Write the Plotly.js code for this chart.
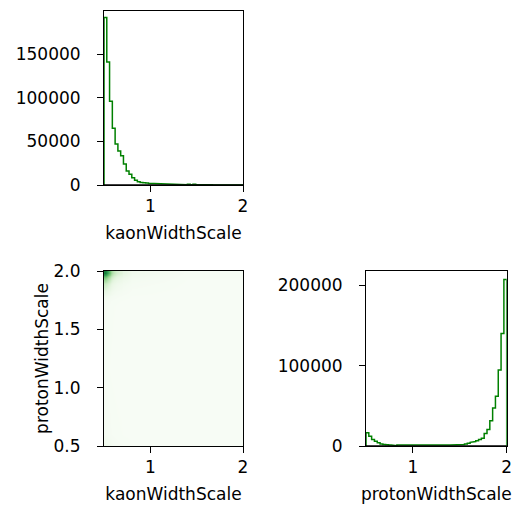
<!DOCTYPE html>
<html>
<head>
<meta charset="utf-8">
<script src="https://cdn.plot.ly/plotly-3.0.1.min.js"></script>
<style>html,body{margin:0;padding:0;background:#fff;}#plot{width:525px;height:512px;}</style>
</head>
<body>
<div id="plot"></div>
<script>
// ---- data ----
const binStart = 0.5;
const binWidth = 0.03;
const kaonCounts = [192000,141000,96000,65000,47000,39000,33500,24000,16000,12300,
  8400,5400,3800,3000,2600,2200,1800,1600,1500,1400,
  1300,1200,1150,1100,1050,1000,1000,1000,1000,300,
  1000,300,1000,200,200,200,200,1000,300,0,
  0,0,0,0,0,0,0,0,0,0];
const protonCounts = [16600,12000,8000,6000,4000,2500,1800,1500,1300,1200,
  300,1100,1100,1000,1000,300,1000,1000,1000,1000,
  1000,300,1000,1000,1000,300,1000,1000,1100,1200,
  1300,1400,1500,1600,1800,2500,3500,4600,5500,6600,
  8000,9500,15700,20600,31300,47400,62000,94600,140000,207000];

// 2D histogram (kaon vs proton), cell edges and counts per 0.03x0.03 bin
const kaonEdges2d = [0.5,0.53,0.56,0.59,0.62,0.65,0.68,0.71,0.8,2.0];
const protonEdges2d = [0.5,0.53,0.6,1.7,1.79,1.82,1.85,1.88,1.91,1.94,1.97,2.0];
const zRow_050 = [4000,3000,2000,1300,1000,800,700,400,20];
const zRow_053 = [2500,1800,1200,800,600,500,400,250,15];
const zRow_060 = [300,220,150,100,70,60,50,30,3];
const zRow_170 = [1200,900,600,400,300,250,200,120,10];
const zRow_179 = [5600,4100,2800,1900,1400,1100,1000,600,40];
const zRow_182 = [8500,6200,4200,2800,2000,1700,1500,900,60];
const zRow_185 = [13000,9500,6400,4300,3100,2600,2200,1400,90];
const zRow_188 = [17000,12500,8500,5700,4100,3400,2900,1900,120];
const zRow_191 = [26000,19000,13000,8700,6300,5200,4500,2900,180];
const zRow_194 = [38000,28000,19000,12800,9300,7700,6600,4200,270];
const zRow_197 = [56000,41000,28000,19000,13700,11400,9800,6300,400];

const xTickVals = [1,2];
const xTickText = ['1','2'];
const kaonYTicks = [0,50000,100000,150000];
const kaonYText = ['0','50000','100000','150000'];
const protonYTicks = [0,100000,200000];
const protonYText = ['0','100000','200000'];
const y2dTicks = [0.5,1.0,1.5,2.0];
const y2dText = ['0.5','1.0','1.5','2.0'];

// ---- build step outlines ----
function stepXY(counts){
  const xs=[binStart], ys=[0];
  for(let i=0;i<counts.length;i++){
    const e0 = binStart + i*binWidth, e1 = binStart + (i+1)*binWidth;
    xs.push(e0, e1); ys.push(counts[i], counts[i]);
  }
  xs.push(binStart + counts.length*binWidth); ys.push(0);
  return {xs, ys};
}
const ks = stepXY(kaonCounts), ps = stepXY(protonCounts);
const z2d = [zRow_050,zRow_053,zRow_060,zRow_170,zRow_179,zRow_182,zRow_185,zRow_188,zRow_191,zRow_194,zRow_197];

const greens = [[0,'#f7fcf5'],[0.125,'#e5f5e0'],[0.25,'#c7e9c0'],[0.375,'#a1d99b'],[0.5,'#74c476'],[0.625,'#41ab5d'],[0.75,'#238b45'],[0.875,'#006d2c'],[1,'#00441b']];

const lineCol = '#008000';
const traces = [
  {type:'scatter', mode:'lines', x:ks.xs, y:ks.ys, xaxis:'x', yaxis:'y', line:{color:lineCol,width:1.5}, hoverinfo:'skip'},
  {type:'heatmap', x:kaonEdges2d, y:protonEdges2d, z:z2d, xaxis:'x2', yaxis:'y2', colorscale:greens, zmin:0, zmax:70000, showscale:false, zsmooth:'best'},
  {type:'scatter', mode:'lines', x:ps.xs, y:ps.ys, xaxis:'x3', yaxis:'y3', line:{color:lineCol,width:1.5}, hoverinfo:'skip'}
];

const font = {family:'DejaVu Sans', size:17, color:'#000'};
function ax(extra){
  return Object.assign({showline:true, mirror:true, linecolor:'#000', linewidth:1, ticks:'outside', ticklen:6, tickwidth:1, tickcolor:'#000',
    showgrid:false, zeroline:false, tickfont:font, automargin:false, fixedrange:true}, extra);
}
function yax(extra){ return ax(Object.assign({ticklabelstandoff:13}, extra)); }
const xL = [104/525, 243/525], xR = [366/525, 506.7/525];
const yT = [(512-185)/512, (512-11)/512], yB = [(512-446)/512, (512-271)/512];

// spine drawn over the step lines along the bottom edge (as matplotlib does)
const spine = (xr, yr) => ({type:'line', xref:xr+' domain', yref:yr+' domain', x0:0, x1:1, y0:0, y1:0, line:{color:'#000', width:1.5}, layer:'above'});

const layout = {
  width:525, height:512, margin:{l:0,r:0,t:0,b:0}, paper_bgcolor:'#fff', plot_bgcolor:'#fff',
  showlegend:false, font:font,
  shapes:[spine('x','y'), spine('x3','y3')],
  xaxis: ax({domain:xL, anchor:'y', range:[0.5,2], tickvals:xTickVals, ticktext:xTickText, title:{text:'kaonWidthScale', font:font, standoff:11}}),
  yaxis: yax({domain:yT, anchor:'x', range:[0,199500], tickvals:kaonYTicks, ticktext:kaonYText}),
  xaxis2: ax({domain:xL, anchor:'y2', range:[0.5,2], tickvals:xTickVals, ticktext:xTickText, title:{text:'kaonWidthScale', font:font, standoff:11}}),
  yaxis2: yax({domain:yB, anchor:'x2', range:[0.5,2], tickvals:y2dTicks, ticktext:y2dText, title:{text:'protonWidthScale', font:font, standoff:0}}),
  xaxis3: ax({domain:xR, anchor:'y3', range:[0.5,2], tickvals:xTickVals, ticktext:xTickText, title:{text:'protonWidthScale', font:font, standoff:11}}),
  yaxis3: yax({domain:yB, anchor:'x3', range:[0,217700], tickvals:protonYTicks, ticktext:protonYText})
};
Plotly.newPlot('plot', traces, layout, {displayModeBar:false, staticPlot:true});
</script>
</body>
</html>
